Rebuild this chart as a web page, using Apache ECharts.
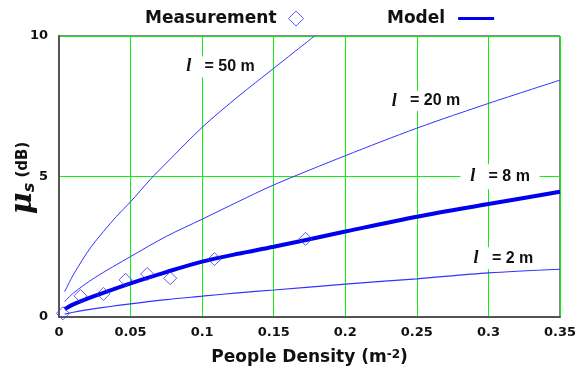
<!DOCTYPE html>
<html>
<head>
<meta charset="utf-8">
<script src="https://cdn.jsdelivr.net/npm/echarts@6/dist/echarts.min.js"></script>
<style>
  html, body { margin: 0; padding: 0; background: #fff; }
  #chart { width: 581px; height: 374px; }
</style>
</head>
<body>
<div id="chart"></div>
<script>
// people density (m^-2) sampled along the model curves
const densities = [0.004, 0.01, 0.025, 0.05, 0.075, 0.1, 0.125, 0.15, 0.2, 0.25, 0.3, 0.35];
const model2m = [0.1, 0.17, 0.3, 0.47, 0.62, 0.74, 0.86, 0.96, 1.17, 1.36, 1.57, 1.7];
const model8m = [0.28, 0.45, 0.75, 1.2, 1.6, 1.97, 2.25, 2.5, 3.04, 3.57, 4.02, 4.46];
const model20m = [0.55, 0.85, 1.4, 2.15, 2.87, 3.48, 4.1, 4.7, 5.74, 6.72, 7.6, 8.43];

// l = 50 m leaves the plot at the top, so it has its own x samples
const densities50m = [0.004, 0.01, 0.0225, 0.04, 0.05, 0.0635, 0.075, 0.1, 0.125, 0.15, 0.1785];
const model50m = [0.9, 1.5, 2.5, 3.57, 4.1, 4.88, 5.48, 6.75, 7.84, 8.85, 10];

const measDensity = [0.0027, 0.015, 0.031, 0.0465, 0.0616, 0.0777, 0.1086, 0.1722];
const measValue = [0.13, 0.75, 0.82, 1.32, 1.53, 1.38, 2.06, 2.78];

const xTickLabels = ["0", "0.05", "0.1", "0.15", "0.2", "0.25", "0.3", "0.35"];
const yTickLabels = ["0", "5", "10"];

// curve annotations: text and where it sits (data coords)
const curveLabels = [
    { text: "50 m", at: [0.1128, 8.91], box: [82, 21] },
    { text: "20 m", at: [0.2564, 7.69], box: [80, 20] },
    { text: "8 m", at: [0.3081, 4.99], box: [79, 25] },
    { text: "2 m", at: [0.3105, 2.09], box: [76, 22] },
];

const pairs = (xs, ys) => xs.map((x, i) => [x, ys[i]]);

const BLUE = "#3333ff";
const GREEN = "#11ee11";
const FONT = "DejaVu Sans";

function curveMark(idx) {
    const c = curveLabels[idx];
    return {
        symbol: "rect",
        symbolSize: c.box,
        itemStyle: { color: "#fff" },
        label: {
            show: true,
            position: "inside",
            formatter: "{l|l}   = " + c.text,
            color: "#111",
            fontFamily: "Liberation Sans",
            fontWeight: "bold",
            fontSize: 16,
            rich: {
                l: {
                    fontFamily: "Liberation Serif",
                    fontStyle: "italic",
                    fontWeight: "bold",
                    fontSize: 18,
                    color: "#111",
                },
            },
        },
        data: [{ coord: c.at }],
    };
}

function modelSeries(xs, ys, width, labelIdx) {
    return {
        name: "Model",
        type: "line",
        data: pairs(xs, ys),
        symbol: "none",
        smooth: 0.3,
        lineStyle: { color: width > 2 ? "#0000ee" : BLUE, width: width },
        itemStyle: { color: BLUE },
        markPoint: curveMark(labelIdx),
        z: 3,
    };
}

const chart = echarts.init(document.getElementById("chart"));

chart.setOption({
    animation: false,
    backgroundColor: "#fff",
    grid: {
        left: 59,
        right: 21,
        top: 36,
        bottom: 57,
        outerBoundsMode: "none",
        containLabel: false,
        show: true,
        borderColor: "#111",
        borderWidth: 1,
    },
    // y axis title, placed by hand so the big mu does not push it around
    graphic: [{
        type: "text",
        x: 23,
        y: 178,
        rotation: Math.PI / 2,
        style: {
            text: "{mu|μ}{s|s}{u| (dB)}",
            align: "center",
            verticalAlign: "middle",
            rich: {
                mu: { fontFamily: "DejaVu Serif", fontStyle: "italic", fontWeight: "bold", fontSize: 30, fill: "#111" },
                s: { fontFamily: FONT, fontStyle: "italic", fontWeight: "bold", fontSize: 16, verticalAlign: "bottom", fill: "#111" },
                u: { fontFamily: FONT, fontWeight: "bold", fontSize: 15, fill: "#111" },
            },
        },
    }],
    legend: [
        {
            data: [{
                name: "Measurement",
                icon: "diamond",
                itemStyle: { color: "#fff", borderColor: BLUE, borderWidth: 1 },
            }],
            left: 145,
            top: 10,
            padding: 0,
            align: "right",
            itemWidth: 15,
            itemHeight: 15,
            textStyle: { fontFamily: FONT, fontWeight: "bold", fontSize: 17, color: "#111", padding: [0, 7, 0, 0] },
        },
        {
            data: [{ name: "Model", icon: "rect", itemStyle: { color: "#0000ee" } }],
            left: 387,
            top: 10,
            padding: 0,
            align: "right",
            itemWidth: 36,
            itemHeight: 3,
            textStyle: { fontFamily: FONT, fontWeight: "bold", fontSize: 17, color: "#111", padding: [0, 8, 0, 0] },
        },
    ],
    xAxis: {
        type: "value",
        min: 0,
        max: 0.35,
        interval: 0.05,
        name: "People Density (m{sup|-2})",
        nameLocation: "middle",
        nameGap: 32,
        nameTextStyle: {
            fontFamily: FONT,
            fontWeight: "bold",
            fontSize: 17,
            color: "#111",
            rich: {
                sup: { fontFamily: FONT, fontWeight: "bold", fontSize: 12, verticalAlign: "top", color: "#111" },
            },
        },
        axisLine: { show: true, lineStyle: { color: "#555", width: 2 } },
        axisTick: { show: false },
        axisLabel: {
            margin: 9,
            fontFamily: FONT,
            fontWeight: "bold",
            fontSize: 13,
            color: "#111",
            formatter: (v) => xTickLabels[Math.round(v / 0.05)],
        },
        splitLine: { show: true, lineStyle: { color: GREEN, width: 1 } },
    },
    yAxis: {
        type: "value",
        min: 0,
        max: 10,
        interval: 5,
        axisLine: { show: true, lineStyle: { color: "#555", width: 2 } },
        axisTick: { show: false },
        axisLabel: {
            margin: 11,
            fontFamily: FONT,
            fontWeight: "bold",
            fontSize: 13,
            color: "#111",
            formatter: (v) => yTickLabels[Math.round(v / 5)],
        },
        splitLine: { show: true, lineStyle: { color: GREEN, width: 1 } },
    },
    series: [
        modelSeries(densities50m, model50m, 1, 0),
        modelSeries(densities, model20m, 1, 1),
        modelSeries(densities, model8m, 4, 2),
        modelSeries(densities, model2m, 1.2, 3),
        {
            name: "Measurement",
            type: "scatter",
            data: pairs(measDensity, measValue),
            symbol: "diamond",
            symbolSize: 13,
            itemStyle: { color: "rgba(0,0,0,0)", borderColor: BLUE, borderWidth: 1 },
            z: 4,
        },
    ],
});
</script>
</body>
</html>
